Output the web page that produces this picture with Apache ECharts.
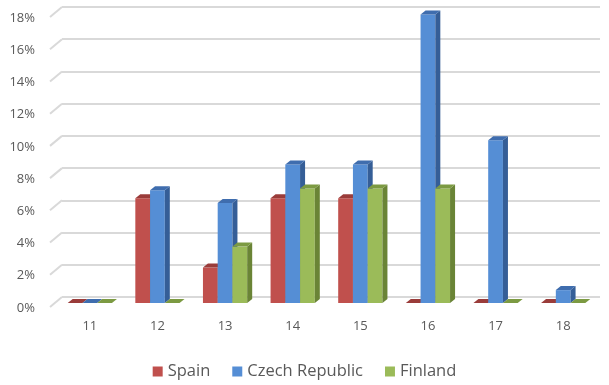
<!DOCTYPE html>
<html><head><meta charset="utf-8">
<script src="https://cdn.jsdelivr.net/npm/echarts@6/dist/echarts.min.js"></script>
<style>html,body{margin:0;padding:0;background:#fff}#c{width:609px;height:385px}</style>
</head><body><div id="c"></div>
<script>
const categories = ['11','12','13','14','15','16','17','18'];
const spain   = [0, 6.5, 2.2, 6.5, 6.5, 0, 0, 0];
const czech   = [0, 7.0, 6.2, 8.6, 8.6, 17.9, 10.1, 0.8];
const finland = [0, 0, 3.5, 7.1, 7.1, 7.1, 0, 0];
const tickValues = [0, 2, 4, 6, 8, 10, 12, 14, 16, 18];

const palettes = [
  {front:'#C0504D', top:'#9A3C3A', side:'#8A3634'},
  {front:'#558ED5', top:'#3F6DAE', side:'#355E97'},
  {front:'#9BBB59', top:'#7C9A42', side:'#6A8436'}
];

function bar3D(idx){
  const pal = palettes[idx];
  return function(params, api){
    const cat = api.value(0), v = api.value(1);
    const top = api.coord([cat, v]);
    const base = api.coord([cat, 0]);
    const catW = api.size([1, 0])[0];
    const bw = catW * 0.218;
    const x0 = top[0] + (idx - 1.5) * bw;
    const x1 = x0 + bw;
    const dx = bw * 0.34, dy = -4;
    const yt = top[1], yb = base[1];
    const children = [];
    if (yb - yt > 0.1) {
      children.push({type:'rect', shape:{x:x0, y:yt, width:bw, height:yb-yt}, style:{fill:pal.front}});
      children.push({type:'polygon', shape:{points:[[x1,yt],[x1+dx,yt+dy],[x1+dx,yb+dy],[x1,yb]]}, style:{fill:pal.side}});
    }
    children.push({type:'polygon', shape:{points:[[x0,yt],[x1,yt],[x1+dx,yt+dy],[x0+dx,yt+dy]]}, style:{fill:pal.top}});
    return {type:'group', children};
  };
}

function mkData(arr){ return arr.map((v,i)=>[i, v]); }

const chart = echarts.init(document.getElementById('c'), null, {renderer:'canvas'});
const labelFont = {fontFamily:'Open Sans', fontSize:13, color:'#595959'};
chart.setOption({
  animation:false,
  grid:[
    {left:56, right:12, top:13, bottom:82},   // bars (front plane)
    {left:62, right:9, top:7, bottom:88},     // back wall
    {left:50, right:9, top:18, bottom:77}     // front labels
  ],
  xAxis:[
    {type:'category', gridIndex:0, data:categories, axisLine:{show:false}, axisTick:{show:false},
      axisLabel:Object.assign({margin:17}, labelFont)},
    {type:'value', gridIndex:1, min:0, max:1, show:false},
    {type:'value', gridIndex:2, min:0, max:1, show:false}
  ],
  yAxis:[
    {type:'value', gridIndex:0, min:0, max:18, interval:2, show:false, splitLine:{show:false}},
    {type:'value', gridIndex:1, min:0, max:18, interval:2, axisLabel:{show:false}, axisLine:{show:false}, axisTick:{show:false},
      splitLine:{show:true, lineStyle:{color:'#D9D9D9', width:2}}},
    {type:'value', gridIndex:2, min:0, max:18, interval:2, axisLine:{show:false}, axisTick:{show:false}, splitLine:{show:false},
      axisLabel:Object.assign({margin:15, formatter:'{value}%'}, labelFont)}
  ],
  legend:{
    bottom:0, left:'center', icon:'rect', itemWidth:10, itemHeight:10, itemGap:22,
    textStyle:{fontFamily:'Open Sans', fontSize:16.5, color:'#595959'},
    data:['Spain','Czech Republic','Finland']
  },
  series:[
    {type:'custom', name:'stubs', xAxisIndex:1, yAxisIndex:1, silent:true, z:1,
      data:tickValues.map(v=>[0, v]),
      renderItem:function(params, api){
        const p = api.coord([0, api.value(1)]);
        return {type:'line', shape:{x1:p[0]-12, y1:p[1]+10, x2:p[0], y2:p[1]}, style:{stroke:'#D9D9D9', lineWidth:2}};
      }},
    {type:'custom', name:'Spain', xAxisIndex:0, yAxisIndex:0, clip:false, z:3, data:mkData(spain),
      itemStyle:{color:palettes[0].front}, renderItem:bar3D(0), encode:{x:0, y:1}},
    {type:'custom', name:'Czech Republic', xAxisIndex:0, yAxisIndex:0, clip:false, z:3, data:mkData(czech),
      itemStyle:{color:palettes[1].front}, renderItem:bar3D(1), encode:{x:0, y:1}},
    {type:'custom', name:'Finland', xAxisIndex:0, yAxisIndex:0, clip:false, z:3, data:mkData(finland),
      itemStyle:{color:palettes[2].front}, renderItem:bar3D(2), encode:{x:0, y:1}}
  ]
});
</script></body></html>
